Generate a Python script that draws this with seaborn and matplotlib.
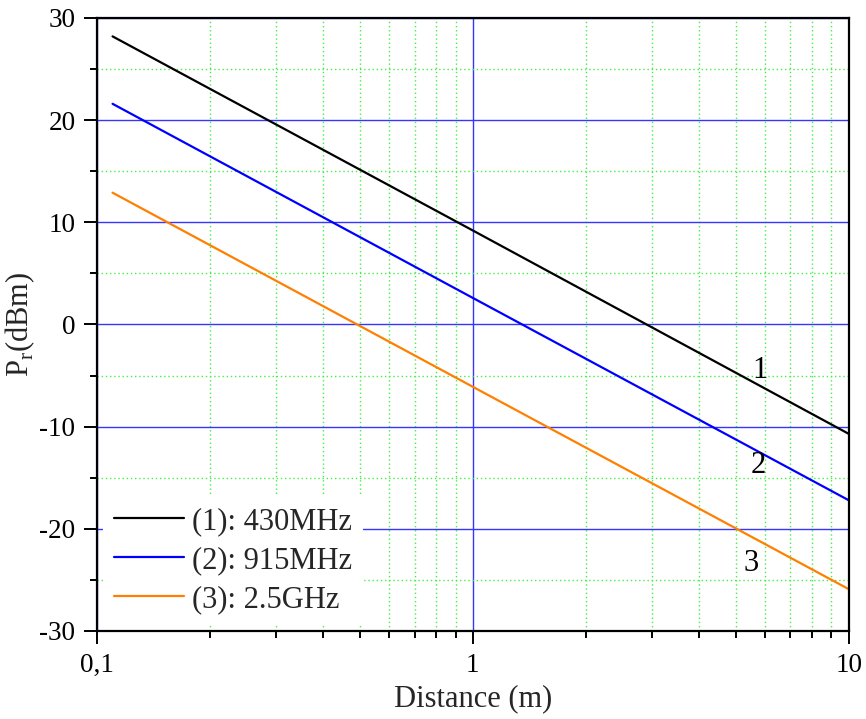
import numpy as np
import pandas as pd
import matplotlib
matplotlib.use("Agg")
import matplotlib.pyplot as plt
import matplotlib.ticker as mticker
import seaborn as sns

# ---- data ----
distance = [0.11, 1.0, 10.0]                 # m
pr_430mhz = [28.2, 9.2, -10.7]               # dBm
pr_915mhz = [21.6, 2.6, -17.2]
pr_2_5ghz = [12.9, -6.1, -25.9]
series_names = ["(1): 430MHz", "(2): 915MHz", "(3): 2.5GHz"]
series_colors = ["#000000", "#0000ff", "#ff8000"]
curve_tags = ["1", "2", "3"]
xtick_values = [0.1, 1, 10]
xtick_labels = ["0,1", "1", "10"]
ytick_values = [-30, -20, -10, 0, 10, 20, 30]

df = pd.concat([
    pd.DataFrame({"distance": distance, "pr": vals, "series": name})
    for vals, name in zip([pr_430mhz, pr_915mhz, pr_2_5ghz], series_names)
], ignore_index=True)

sns.set_theme(style="white")
plt.rcParams["font.family"] = ["Liberation Serif", "DejaVu Serif"]
plt.rcParams["mathtext.fontset"] = "custom"
plt.rcParams["mathtext.rm"] = "Liberation Serif"
plt.rcParams["axes.unicode_minus"] = False

fig = plt.figure(figsize=(8.66, 7.19), dpi=100)
ax = fig.add_axes([0.112, 0.1224, 0.868, 0.8526])

sns.lineplot(data=df, x="distance", y="pr", hue="series", palette=series_colors,
             hue_order=series_names, linewidth=1.6, ax=ax, legend=False, zorder=3)

ax.set_xscale("log")
ax.set_xlim(0.1, 10)
ax.set_ylim(-30, 30)
ax.set_xticks(xtick_values)
ax.set_xticklabels(xtick_labels)
ax.xaxis.set_minor_locator(mticker.LogLocator(base=10, subs=np.arange(2, 10)))
ax.xaxis.set_minor_formatter(mticker.NullFormatter())
ax.set_yticks(ytick_values)
ax.yaxis.set_minor_locator(mticker.MultipleLocator(5))

ax.grid(which="major", color="#3535ff", linewidth=1.0, linestyle="-", zorder=1)
ax.grid(which="minor", color="#44ee44", linewidth=1.0, linestyle=(0, (1, 2)), zorder=1)
ax.set_axisbelow(True)

for s in ax.spines.values():
    s.set_color("black")
    s.set_linewidth(1.6)
    s.set_zorder(4)

ax.tick_params(which="major", direction="out", length=9.5, width=1.4, colors="black",
               labelsize=19.5, pad=6, left=True, bottom=True)
ax.tick_params(which="minor", direction="out", length=5, width=1.4, colors="black",
               left=True, bottom=True)

ax.set_xlabel("Distance (m)", fontsize=22, labelpad=5)
ax.set_ylabel(r"P$_\mathregular{r}$(dBm)", fontsize=22, labelpad=2)

# curve tags
for tag, (tx, ty) in zip(curve_tags, [(5.8, -4.5), (5.75, -13.8), (5.5, -23.4)]):
    ax.text(tx, ty, tag, fontsize=22, ha="center", va="center", color="black", zorder=5)

handles = [plt.Line2D([], [], color=c, lw=1.6) for c in series_colors]
leg = ax.legend(handles, series_names, loc="lower left", bbox_to_anchor=(0, 0),
                fontsize=22, frameon=True, fancybox=False, framealpha=1,
                facecolor="white", edgecolor="none", handlelength=2.3,
                handletextpad=0.25, labelspacing=0.33, borderpad=0.35, borderaxespad=0.2)
leg.set_zorder(6)

fig.savefig("out.png", dpi=100)
